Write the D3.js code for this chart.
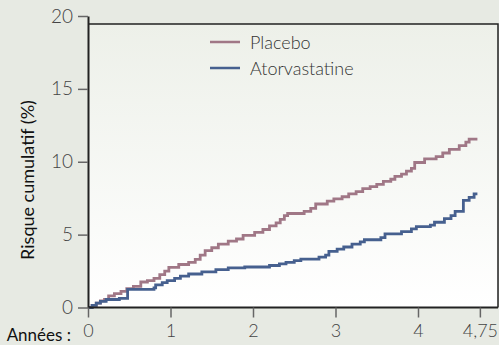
<!DOCTYPE html>
<html>
<head>
<meta charset="utf-8">
<script src="https://cdn.jsdelivr.net/npm/d3@7"></script>
<style>
  body { margin: 0; background: #e7eae3; }
  svg { display: block; font-family: Lato, "Open Sans", sans-serif; }
</style>
</head>
<body>
<div class="chart"></div>
<script>
// chart values
var yTicks = [0, 5, 10, 15, 20];
var xTicks = [0, 1, 2, 3, 4, 4.75];
var xTickLabels = ["0", "1", "2", "3", "4", "4,75"];
var seriesNames = ["Placebo", "Atorvastatine"];

// placebo step curve: times (years) and cumulative risk (%)
var placeboT = [0, 0.05, 0.1, 0.15, 0.2, 0.25, 0.32, 0.4, 0.47, 0.55, 0.64, 0.72, 0.8, 0.87, 0.93, 0.98,
  1.1, 1.22, 1.3, 1.36, 1.42, 1.5, 1.58, 1.7, 1.8, 1.88, 2.02, 2.12, 2.2, 2.28, 2.33, 2.38, 2.42,
  2.62, 2.7, 2.76, 2.9, 2.98, 3.08, 3.16, 3.25, 3.33, 3.42, 3.5, 3.58, 3.67, 3.72, 3.8, 3.86, 3.92,
  3.96, 4.08, 4.22, 4.3, 4.38, 4.5, 4.58, 4.62, 4.72];
var placeboV = [0, 0.15, 0.3, 0.45, 0.55, 0.8, 0.95, 1.1, 1.3, 1.45, 1.75, 1.85, 2.0, 2.25, 2.5, 2.75,
  2.95, 3.1, 3.3, 3.6, 3.9, 4.1, 4.35, 4.55, 4.7, 4.95, 5.15, 5.35, 5.6, 5.8, 6.05, 6.3, 6.45,
  6.6, 6.8, 7.1, 7.3, 7.45, 7.6, 7.8, 7.95, 8.15, 8.3, 8.45, 8.65, 8.8, 9.0, 9.15, 9.35, 9.55,
  9.95, 10.2, 10.35, 10.6, 10.85, 11.1, 11.35, 11.55, 11.55];

// atorvastatine step curve
var atorT = [0, 0.05, 0.1, 0.15, 0.22, 0.38, 0.48, 0.8, 0.82, 0.9, 0.96, 1.05, 1.12, 1.22, 1.38, 1.55,
  1.7, 1.9, 2.2, 2.32, 2.4, 2.5, 2.58, 2.8, 2.88, 2.92, 3.02, 3.1, 3.2, 3.3, 3.35, 3.55, 3.6, 3.8,
  3.92, 3.98, 4.15, 4.2, 4.32, 4.4, 4.45, 4.55, 4.62, 4.68, 4.72];
var atorV = [0, 0.15, 0.3, 0.42, 0.55, 0.62, 1.25, 1.35, 1.55, 1.7, 1.85, 2.0, 2.15, 2.3, 2.45, 2.6,
  2.72, 2.78, 2.88, 3.0, 3.1, 3.22, 3.32, 3.45, 3.6, 3.85, 4.0, 4.15, 4.35, 4.5, 4.65, 4.8, 5.05, 5.2,
  5.4, 5.55, 5.65, 5.85, 6.1, 6.3, 6.6, 7.35, 7.55, 7.8, 7.8];

var colors = ["#a07786", "#46608f"];

var width = 499, height = 345;
var margin = {top: 24, right: 1, bottom: 38, left: 88};

var svg = d3.select("div.chart")
    .append("svg")
    .attr("width", width)
    .attr("height", height);

var x = d3.scaleLinear()
    .domain([0, 4.75])
    .range([margin.left, margin.left + 4.75 * 82.5]);
var y = d3.scaleLinear()
    .domain([0, 20])
    .range([307.5, 16]);

// plot background gradient
var grad = svg.append("defs").append("linearGradient")
    .attr("id", "bg").attr("x1", 0).attr("y1", 0).attr("x2", 0).attr("y2", 1);
grad.append("stop").attr("offset", "0%").attr("stop-color", "#edf0e9");
grad.append("stop").attr("offset", "100%").attr("stop-color", "#ffffff");

svg.append("rect")
    .attr("x", margin.left)
    .attr("y", margin.top)
    .attr("width", width - margin.right - margin.left)
    .attr("height", y(0) - margin.top)
    .attr("fill", "url(#bg)");

// top and right frame
svg.append("path")
    .attr("d", "M" + margin.left + "," + margin.top + "H" + (width - margin.right) + "V" + y(0))
    .attr("fill", "none")
    .attr("stroke", "#222")
    .attr("stroke-width", 1.5);

// lines
function stepData(ts, vs) {
    return ts.map(function (t, i) { return [t, vs[i]]; });
}
var line = d3.line()
    .x(function (d) { return x(d[0]); })
    .y(function (d) { return y(d[1]); })
    .curve(d3.curveStepAfter);

var series = [stepData(placeboT, placeboV), stepData(atorT, atorV)];
series.forEach(function (s, i) {
    svg.append("path")
        .datum(s)
        .attr("d", line)
        .attr("fill", "none")
        .attr("stroke", colors[i])
        .attr("stroke-width", 2.8);
});

// y axis
var yAxis = svg.append("g")
    .attr("transform", "translate(" + margin.left + ",0)")
    .call(d3.axisLeft(y).tickValues(yTicks).tickSize(10).tickPadding(5).tickSizeOuter(0));
yAxis.select(".domain").attr("stroke", "#222").attr("stroke-width", 2);
yAxis.selectAll(".tick line").attr("stroke", "#666").attr("stroke-width", 1.5);
yAxis.selectAll(".tick text")
    .attr("fill", "#444")
    .style("font-size", "19px")
    .style("font-weight", "300")
    .style("font-family", "Lato, sans-serif");

// x axis
var xAxis = svg.append("g")
    .attr("transform", "translate(0," + y(0) + ")")
    .call(d3.axisBottom(x).tickValues(xTicks)
        .tickFormat(function (d, i) { return xTickLabels[i]; })
        .tickSize(10).tickPadding(7).tickSizeOuter(0));
xAxis.select(".domain")
    .attr("d", "M" + margin.left + ",0H" + (width - margin.right))
    .attr("stroke", "#222").attr("stroke-width", 2);
xAxis.selectAll(".tick line").attr("stroke", "#666").attr("stroke-width", 1.5);
xAxis.selectAll(".tick text")
    .attr("fill", "#444")
    .style("font-size", "18px")
    .style("font-weight", "300")
    .style("font-family", "Lato, sans-serif");

svg.append("text")
    .attr("x", 71)
    .attr("y", 341)
    .attr("text-anchor", "end")
    .attr("fill", "#111")
    .style("font-size", "17px")
    .style("font-weight", "400")
    .text("Années :");

// y title
svg.append("text")
    .attr("transform", "translate(34," + 180 + ") rotate(-90)")
    .attr("text-anchor", "middle")
    .attr("fill", "#111")
    .style("font-size", "18px")
    .style("font-weight", "400")
    .text("Risque cumulatif (%)");

// legend
var legend = svg.append("g");
seriesNames.forEach(function (name, i) {
    var ly = 42 + i * 26;
    legend.append("line")
        .attr("x1", 210).attr("x2", 240)
        .attr("y1", ly).attr("y2", ly)
        .attr("stroke", colors[i])
        .attr("stroke-width", 2.5);
    legend.append("text")
        .attr("x", 250)
        .attr("y", ly + 7)
        .attr("fill", "#333")
        .style("font-size", "18px")
        .style("font-weight", "300")
        .text(name);
});
</script>
</body>
</html>
